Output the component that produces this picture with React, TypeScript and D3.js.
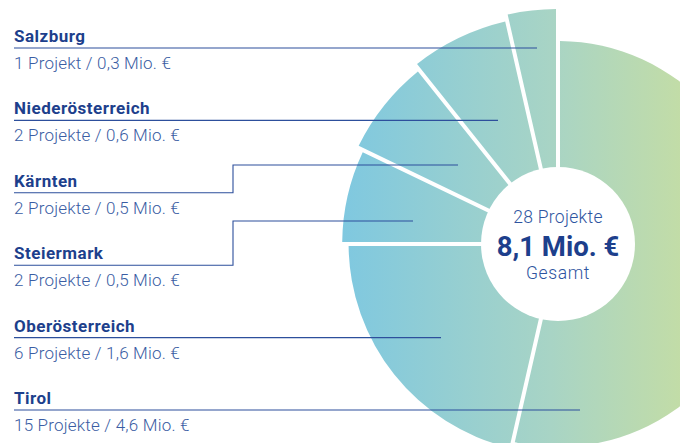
import React, { useEffect, useRef } from "react";
import * as d3 from "d3";

// regions listed top to bottom as in the legend
const regions = ["Salzburg", "Niederösterreich", "Kärnten", "Steiermark", "Oberösterreich", "Tirol"];
const projects = [1, 2, 2, 2, 6, 15];
const amounts = ["0,3", "0,6", "0,5", "0,5", "1,6", "4,6"];
const totalProjects = 28;
const totalAmount = "8,1";

// where each leader line meets the donut (layout only)
const leaderEnds = [
  { x: 537, y: 48, elbow: null },
  { x: 498, y: 121, elbow: null },
  { x: 458, y: 165, elbow: 233 },
  { x: 413, y: 221, elbow: 233 },
  { x: 441, y: 340, elbow: null },
  { x: 580, y: 410, elbow: null },
];

const W = 680, H = 443;
const cx = 558, cy = 244;
const navy = "#1d3f8c";
const lineColor = "#2d4f9c";

export default function App() {
  const ref = useRef<SVGSVGElement>(null);

  useEffect(() => {
    const svg = d3.select(ref.current);
    svg.selectAll("*").remove();

    const defs = svg.append("defs");
    // gradient is used inside the translated group, so coords are relative to the centre
    const grad = defs
      .append("linearGradient")
      .attr("id", "donutGrad")
      .attr("gradientUnits", "userSpaceOnUse")
      .attr("x1", 342 - cx).attr("y1", 0)
      .attr("x2", 690 - cx).attr("y2", 0);
    grad.append("stop").attr("offset", "0%").attr("stop-color", "#7fc8e0");
    grad.append("stop").attr("offset", "60%").attr("stop-color", "#a8d4c5");
    grad.append("stop").attr("offset", "100%").attr("stop-color", "#c4dda5");

    // pie runs clockwise from the top, starting with Tirol
    const pieData = regions.map((r, i) => ({ name: r, value: projects[i] })).reverse();
    const pie = d3.pie<any>().value((d) => d.value).sort(null);
    const arcs = pie(pieData);

    const outer = d3.scaleLinear().domain([0, pieData.length - 1]).range([203, 235]);

    const g = svg.append("g").attr("transform", `translate(${cx},${cy})`);
    g.selectAll("path")
      .data(arcs)
      .join("path")
      .attr("d", (d, i) =>
        d3.arc<any>()
          .innerRadius(60)
          .outerRadius(outer(i))
          .padAngle(0.04)
          .padRadius(100)(d)
      )
      .attr("fill", "url(#donutGrad)");

    // white hole
    g.append("circle").attr("r", 77).attr("fill", "#fff");

    // leader lines + labels
    const y0 = 48, step = (410 - 48) / 5;
    regions.forEach((r, i) => {
      const ly = y0 + i * step;
      const e = leaderEnds[i];
      const pts: [number, number][] = e.elbow
        ? [[14, ly], [e.elbow, ly], [e.elbow, e.y], [e.x, e.y]]
        : [[14, ly], [e.x, ly]];
      svg.append("path")
        .attr("d", d3.line()(pts))
        .attr("fill", "none")
        .attr("stroke", lineColor)
        .attr("stroke-width", 1.1);

      svg.append("text")
        .attr("x", 14)
        .attr("y", ly - 6)
        .attr("fill", navy)
        .style("font-family", "Roboto, sans-serif")
        .style("font-weight", 700)
        .style("font-size", "17px")
        .style("letter-spacing", "0.5px")
        .text(r);

      svg.append("text")
        .attr("x", 14)
        .attr("y", ly + 21)
        .attr("fill", "#3a5da3")
        .style("font-family", "Roboto, sans-serif")
        .style("font-weight", 300)
        .style("font-size", "17px")
        .style("letter-spacing", "0.2px")
        .text(`${projects[i]} ${projects[i] === 1 ? "Projekt" : "Projekte"} / ${amounts[i]} Mio. €`);
    });

    // centre labels
    const c = svg.append("g").attr("text-anchor", "middle").style("font-family", "Roboto, sans-serif");
    c.append("text").attr("x", cx).attr("y", cy - 21).attr("fill", "#2e54a0")
      .style("font-size", "17.5px").style("font-weight", 300).style("letter-spacing", "0.3px")
      .text(`${totalProjects} Projekte`);
    c.append("text").attr("x", cx).attr("y", cy + 12).attr("fill", navy)
      .style("font-size", "27.5px").style("font-weight", 700).text(`${totalAmount} Mio. €`);
    c.append("text").attr("x", cx).attr("y", cy + 35).attr("fill", "#2e54a0")
      .style("font-size", "17.5px").style("font-weight", 300).style("letter-spacing", "0.6px")
      .text("Gesamt");
  }, []);

  return (
    <svg
      ref={ref}
      width={W}
      height={H}
      style={{ position: "absolute", left: 0, top: 0, background: "#fff" }}
    />
  );
}
